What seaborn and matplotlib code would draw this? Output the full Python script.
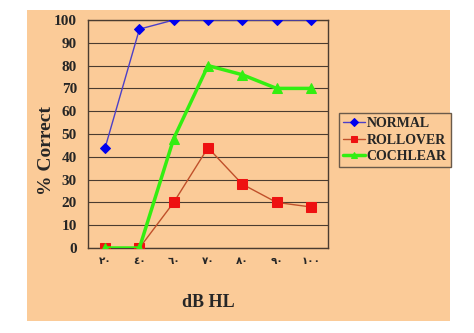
import matplotlib
matplotlib.use("Agg")
import matplotlib.pyplot as plt
from matplotlib.patches import Rectangle
import seaborn as sns
import pandas as pd
import numpy as np

categories = ["٢٠", "٤٠", "٦٠", "٧٠", "٨٠", "٩٠", "١٠٠"]
normal = [44, 96, 100, 100, 100, 100, 100]
rollover = [0, 0, 20, 44, 28, 20, 18]
cochlear = [0, 0, 48, 80, 76, 70, 70]

sns.set_style("white")
plt.rcParams['font.family'] = ['Liberation Serif', 'DejaVu Sans']

bg = "#FBCB98"
fig = plt.figure(figsize=(4.74, 3.33), dpi=100)
fig.patch.set_facecolor("white")
fig.patches.append(Rectangle((27/474, 1 - 321/333), (450-27)/474, (321-10)/333,
                             transform=fig.transFigure, facecolor=bg, edgecolor="none", zorder=-10))

ax = fig.add_axes([88/474, 1 - 248/333, (328-88)/474, (248-20)/333])
ax.set_facecolor(bg)

x = np.arange(len(categories))
df = pd.DataFrame({"x": x, "NORMAL": normal, "ROLLOVER": rollover, "COCHLEAR": cochlear})

sns.lineplot(data=df, x="x", y="NORMAL", ax=ax, color="#4B3FC8", lw=1.0, marker="D",
             markersize=5.5, markerfacecolor="#0000EE", markeredgecolor="#0000EE", label="NORMAL", zorder=4)
sns.lineplot(data=df, x="x", y="ROLLOVER", ax=ax, color="#C0502A", lw=1.0, marker="s",
             markersize=6.5, markerfacecolor="#EE1111", markeredgecolor="#EE1111", label="ROLLOVER", zorder=3)
sns.lineplot(data=df, x="x", y="COCHLEAR", ax=ax, color="#33EE11", lw=2.5, marker="^",
             markersize=6.5, markerfacecolor="#33EE11", markeredgecolor="#33EE11", label="COCHLEAR", zorder=3)

ax.set_xlim(-0.5, len(categories) - 0.5)
ax.set_ylim(0, 100)
ax.set_yticks(np.arange(0, 101, 10))
ax.yaxis.grid(True, color="#4A3C30", lw=0.8)
ax.set_axisbelow(True)

edge = "#4A3C30"
for s in ax.spines.values():
    s.set_color(edge)
    s.set_linewidth(1.0)

ax.set_xticks(np.arange(-0.5, len(categories), 1.0))
ax.set_xticklabels([])
ax.set_xticks(x, minor=True)
ax.set_xticklabels(categories, minor=True, family="DejaVu Sans", fontsize=7.5, fontweight="bold")
ax.tick_params(axis="x", which="major", direction="out", length=5, color=edge, width=1)
ax.tick_params(axis="x", which="minor", length=0, pad=6)
ax.tick_params(axis="y", direction="out", length=4, color=edge, width=1, pad=4)
for t in ax.get_yticklabels():
    t.set_fontweight("bold")
    t.set_fontsize(11)

ax.set_xlabel("dB HL", fontsize=13, fontweight="bold")
ax.xaxis.set_label_coords(0.5, -(294 - 248) / 228)
ax.set_ylabel("% Correct", fontsize=14, fontweight="bold")
ax.yaxis.set_label_coords(-0.138, (248 - 151) / 228)

leg = ax.legend(loc="upper left", bbox_to_anchor=(339/474, 1 - 113/333), bbox_transform=fig.transFigure,
                frameon=True, fancybox=False, framealpha=1, facecolor=bg, edgecolor="#6A5A4A",
                prop={"family": "Liberation Serif", "weight": "bold", "size": 10},
                handlelength=1.6, handletextpad=0.1, borderpad=0.3, labelspacing=0.25, borderaxespad=0,
                markerscale=0.75)
leg.get_frame().set_linewidth(1.0)

fig.savefig("out.png", dpi=100, facecolor="white")
